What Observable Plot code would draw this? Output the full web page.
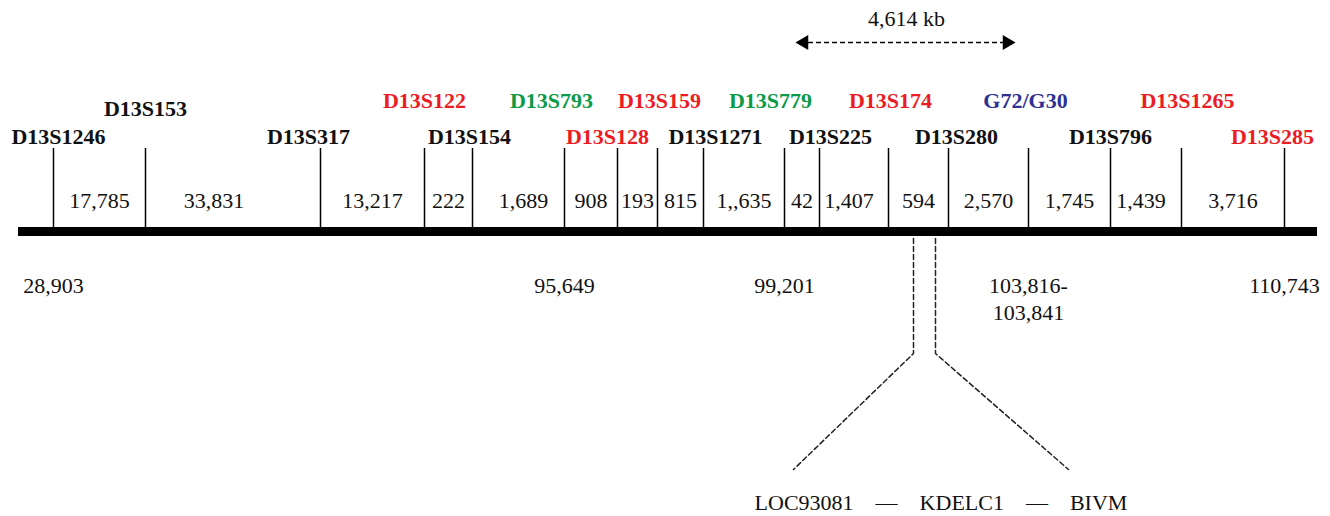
<!DOCTYPE html>
<html><head><meta charset="utf-8">
<script src="https://cdn.jsdelivr.net/npm/d3@7"></script>
<script src="https://cdn.jsdelivr.net/npm/@observablehq/plot@0.6"></script>
<style>body{margin:0;background:#fff}</style>
</head><body><div id="chart"></div>
<script>
// ---- data ----
const markers = ["D13S1246","D13S153","D13S317","D13S122","D13S154","D13S793","D13S128","D13S159","D13S1271","D13S779","D13S225","D13S174","D13S280","G72/G30","D13S796","D13S1265","D13S285"];
// schematic (not to scale) position of each marker along the map
const markerPos = [53,145,320,424,472,564,617,657,703,784,819,888,948,1028,1110,1181,1284];
const markerGroup = ["black","black","black","red","black","green","red","red","black","green","black","red","black","blue","black","red","red"];
const labelRow = ["lower","middle","lower","upper","lower","upper","lower","upper","lower","upper","lower","upper","lower","upper","lower","upper","lower"];
const intervalKb = ["17,785","33,831","13,217","222","1,689","908","193","815","1,,635","42","1,407","594","2,570","1,745","1,439","3,716"];
const physMarkers = ["D13S1246","D13S793","D13S779","G72/G30","D13S285"];
const physPos = ["28,903","95,649","99,201","103,816-\n103,841","110,743"];
const spanFrom = "D13S779", spanTo = "G72/G30", spanLabel = "4,614 kb";
const genes = ["LOC93081","KDELC1","BIVM"];
const mapExtent = [18, 1317];
const zoomWindow = [913, 935];
const geneSpread = [793, 1068];

// ---- layout (schematic units, kept apart from data) ----
const L = {arrowText: 18, arrow: 42, upper: 100, middle: 108, lower: 136, tickTop: 148,
           interval: 200, bar: 231, phys: 273, zoomTop: 238, bend: 353, geneTip: 469, geneText: 502};
const labelNudge = {"D13S1246": 5, "D13S317": -12, "D13S154": -3, "D13S793": -13, "D13S128": -10,
  "D13S159": 2, "D13S1271": 12, "D13S779": -14, "D13S225": 11, "D13S174": 2, "D13S280": 8,
  "G72/G30": -3, "D13S1265": 6, "D13S285": -12};
const intervalNudge = {1: -19, 4: 5, 10: -5, 13: 0, 14: -5};
const colors = {black: "#111", red: "#ec1c24", green: "#0a9a48", blue: "#2e3192"};
const serif = "'Liberation Serif', 'Times New Roman', serif";

const M = markers.map((name, i) => ({name, pos: markerPos[i], group: markerGroup[i], row: labelRow[i]}));
const byName = Object.fromEntries(M.map(d => [d.name, d]));
const intervals = intervalKb.map((t, i) => ({text: t, mid: (markerPos[i] + markerPos[i + 1]) / 2 + (intervalNudge[i] || 0)}));
const phys = physMarkers.map((m, i) => ({pos: byName[m].pos, text: physPos[i]}));
const span = [{x1: byName[spanFrom].pos, x2: byName[spanTo].pos}];
const zoomLines = [
  [{x: zoomWindow[0], y: L.zoomTop}, {x: zoomWindow[0], y: L.bend}, {x: geneSpread[0], y: L.geneTip}],
  [{x: zoomWindow[1], y: L.zoomTop}, {x: zoomWindow[1], y: L.bend}, {x: geneSpread[1], y: L.geneTip}]
].flatMap((pts, k) => pts.map(p => ({...p, k})));
const sep = "\u00a0\u00a0\u00a0\u00a0\u2014\u00a0\u00a0\u00a0\u00a0";

const chart = Plot.plot({
  width: 1330, height: 516, margin: 0,
  x: {domain: [0, 1330], range: [0, 1330], axis: null},
  y: {domain: [0, 516], range: [0, 516], axis: null},
  style: {background: "#fff", fontFamily: serif},
  marks: [
    // main map bar
    Plot.ruleY([L.bar], {x1: mapExtent[0], x2: mapExtent[1], stroke: "#000", strokeWidth: 9}),
    // marker ticks
    Plot.ruleX(M, {x: "pos", y1: L.tickTop, y2: L.bar, stroke: "#000", strokeWidth: 1.5}),
    // marker names
    Plot.text(M, {x: d => d.pos + (labelNudge[d.name] || 0), y: d => L[d.row], text: "name", fill: d => colors[d.group],
      fontWeight: "bold", fontSize: 22, fontFamily: serif}),
    // interval lengths (kb)
    Plot.text(intervals, {x: "mid", y: L.interval, text: "text", fill: "#111", fontSize: 22, fontFamily: serif}),
    // physical positions (kb)
    Plot.text(phys, {x: "pos", y: L.phys, text: "text", fill: "#111", fontSize: 22, fontFamily: serif,
      lineAnchor: "top", lineHeight: 1.23}),
    // 4,614 kb span arrow
    Plot.ruleY(span, {y: L.arrow, x1: "x1", x2: "x2", insetLeft: 16, insetRight: 18,
      stroke: "#000", strokeWidth: 1.5, strokeDasharray: "5,3"}),
    Plot.dot(span, {x: "x1", y: L.arrow, dx: 19.5, symbol: "triangle", rotate: -90, r: 5.5, fill: "#000", stroke: null}),
    Plot.dot(span, {x: "x2", y: L.arrow, dx: -21.5, symbol: "triangle", rotate: 90, r: 5.5, fill: "#000", stroke: null}),
    Plot.text(span, {x: d => (d.x1 + d.x2) / 2, y: L.arrowText, text: () => spanLabel, fill: "#111", fontSize: 22, fontFamily: serif}),
    // zoom-in dashed lines
    Plot.line(zoomLines, {x: "x", y: "y", z: "k", stroke: "#222", strokeWidth: 1.5, strokeDasharray: "5,3"}),
    // genes
    Plot.text([genes.join(sep)], {x: (geneSpread[0] + geneSpread[1]) / 2, dx: 10, y: L.geneText, text: d => d,
      fill: "#111", fontSize: 22, fontFamily: serif})
  ]
});
document.getElementById("chart").appendChild(chart);
</script>
</body></html>
